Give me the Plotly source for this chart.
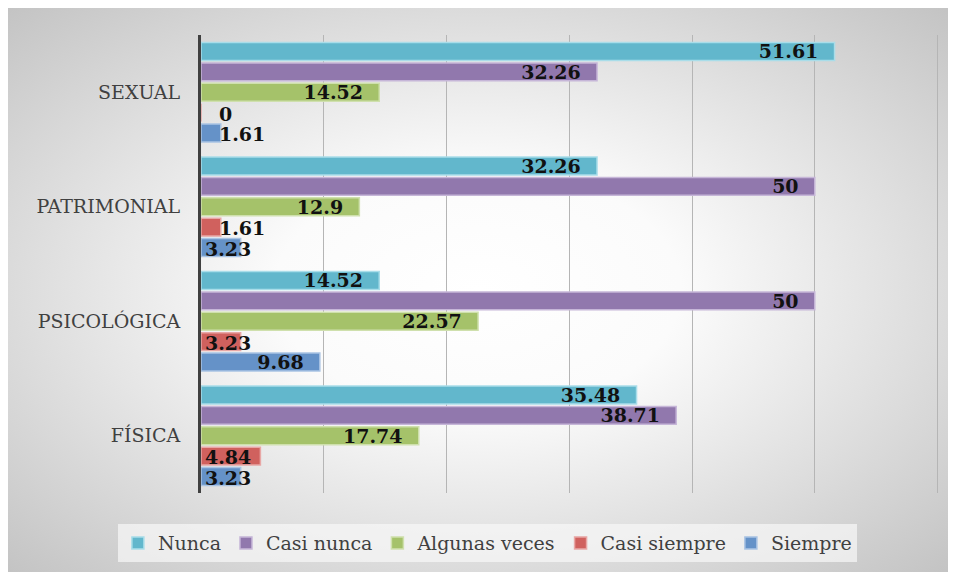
import base64
import plotly.graph_objects as go

categories = ["FÍSICA", "PSICOLÓGICA", "PATRIMONIAL", "SEXUAL"]

nunca = [35.48, 14.52, 32.26, 51.61]
casi_nunca = [38.71, 50, 50, 32.26]
algunas_veces = [17.74, 22.57, 12.9, 14.52]
casi_siempre = [4.84, 3.23, 1.61, 0]
siempre = [3.23, 9.68, 3.23, 1.61]

## bottom to top inside each group
series = [
    ("Siempre", siempre, "#6592c8", "#a9c3e3"),
    ("Casi siempre", casi_siempre, "#d0615e", "#e8a7a5"),
    ("Algunas veces", algunas_veces, "#a5c26a", "#cfe0ad"),
    ("Casi nunca", casi_nunca, "#9178ad", "#c6b6d8"),
    ("Nunca", nunca, "#62b7cc", "#a9dde9"),
]

# page has an 8px body margin, figure sits inside it
W, H = 940, 564
L, R, T, B = 193, 8, 27, 79
pw, ph = W - L - R, H - T - B
xmax = 60.2
bargap = 0.11
small = 5  # labels of shorter bars are drawn from the axis

## radial grey background as svg image
svg = (
    '<svg xmlns="http://www.w3.org/2000/svg" width="940" height="564" preserveAspectRatio="none">'
    '<defs><radialGradient id="g" cx="50%" cy="50%" r="72%">'
    '<stop offset="0" stop-color="#ffffff"/>'
    '<stop offset="0.3" stop-color="#fbfbfb"/>'
    '<stop offset="1" stop-color="#c2c2c2"/>'
    '</radialGradient></defs>'
    '<rect width="940" height="564" fill="url(#g)"/></svg>'
)
bg = "data:image/svg+xml;base64," + base64.b64encode(svg.encode()).decode()

label_font = dict(family="DejaVu Serif", size=19, color="#111111", weight="bold")

fig = go.Figure()
n = len(series)
cat_px = ph / len(categories)
slot = (1 - bargap) / n
for i, (name, vals, col, edge) in enumerate(series):
    texts = ["" if v < small else str(v) + "\u00a0\u00a0" for v in vals]
    fig.add_trace(go.Bar(
        y=categories, x=vals, name=name, orientation="h",
        marker=dict(color=col, line=dict(color=edge, width=1.5)),
        text=texts, textposition="inside", insidetextanchor="end",
        constraintext="none", textangle=0,
        insidetextfont=label_font,
    ))
    ## labels that do not fit inside their bar
    shift = (-(1 - bargap) / 2 + slot * (i + 0.5)) * cat_px
    for c, v in zip(categories, vals):
        if v < small:
            fig.add_annotation(
                x=0, y=c, text=str(v), showarrow=False,
                xanchor="left", xshift=16 if v < 3 else 2, yshift=shift - 1,
                font=label_font,
            )

fig.add_layout_image(
    source=bg, xref="paper", yref="paper",
    x=-L / pw, y=(H - B) / ph,
    sizex=W / pw, sizey=H / ph,
    sizing="stretch", xanchor="left", yanchor="top", layer="below",
)

fig.update_layout(
    width=W, height=H,
    margin=dict(l=L, r=R, t=T, b=B),
    paper_bgcolor="white", plot_bgcolor="rgba(0,0,0,0)",
    barmode="group", bargap=bargap, bargroupgap=0.12,
    font=dict(family="DejaVu Serif", color="#404040", size=19),
    showlegend=True,
    legend=dict(
        orientation="h", traceorder="reversed",
        xref="container", yref="container", x=0.51, xanchor="center",
        y=0.085, yanchor="top",
        bgcolor="rgba(248,248,248,0.7)",
        font=dict(family="DejaVu Serif", size=19, color="#404040"),
    ),
)
fig.update_xaxes(range=[0, xmax], dtick=10, showticklabels=False,
                 showgrid=True, gridcolor="#b5b5b5", gridwidth=1, zeroline=False)
fig.update_yaxes(showline=True, linecolor="#404040", linewidth=3,
                 ticks="", ticklabelstandoff=14, showgrid=False)

fig.write_html("out.html")
